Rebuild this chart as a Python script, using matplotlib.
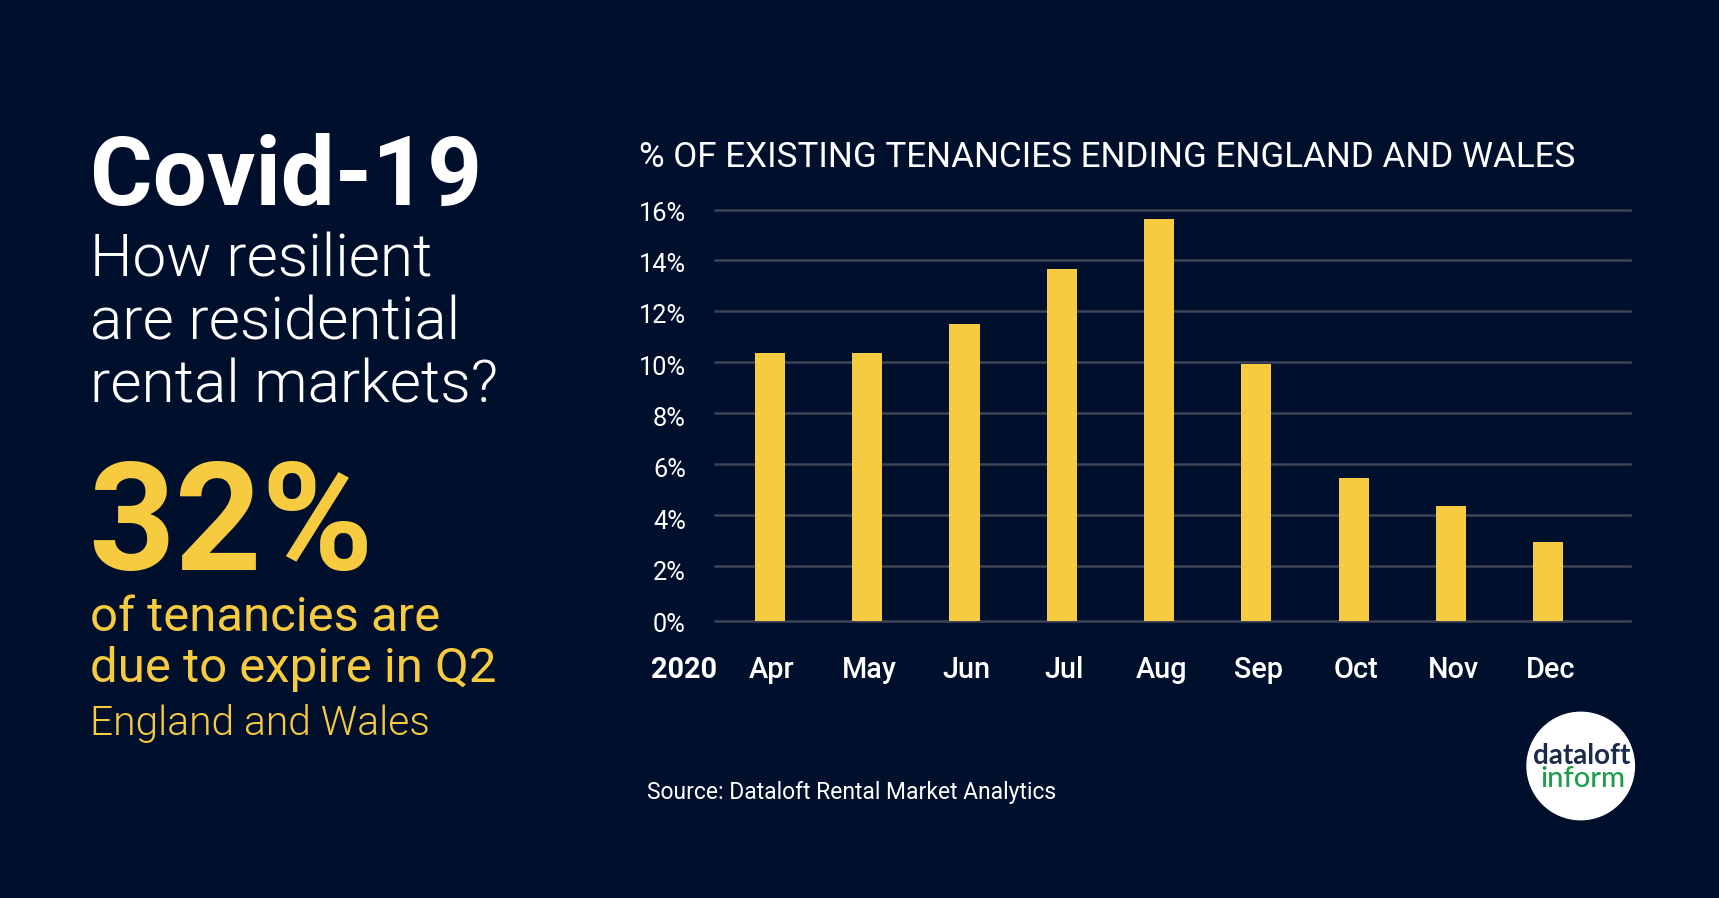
import matplotlib
matplotlib.use("Agg")
import matplotlib.pyplot as plt
from matplotlib.patches import Circle
from matplotlib.transforms import ScaledTranslation

W, H = 1719, 898
BG = "#000f2b"
YELLOW = "#f6cb3f"
GRID = "#3c4356"

months = ["Apr", "May", "Jun", "Jul", "Aug", "Sep", "Oct", "Nov", "Dec"]
tenancies_pct = [10.35, 10.35, 11.5, 13.67, 15.63, 9.93, 5.45, 4.33, 2.95]
# the baseline of the original sits a little below where 0 should be
baseline = -0.16
tick_pos = [baseline, 2, 4, 6, 8, 10, 12, 14, 16]
tick_labels = ["0%", "2%", "4%", "6%", "8%", "10%", "12%", "14%", "16%"]
# labels are evenly spaced in the original but the gridlines are not, px below each line
label_drop = [11.3, 14.4, 14.0, 13.5, 13.1, 12.6, 12.2, 11.7, 11.2]

plt.rcParams["font.family"] = ["Roboto", "DejaVu Sans"]

fig = plt.figure(figsize=(W / 100, H / 100), dpi=100, facecolor=BG)


def px_text(x, y, s, **kw):
    return fig.text(x / W, 1 - y / H, s, va="baseline", **kw)


# chart
left, right, top, bottom = 715, 1630, 209.5, 620.7
ax = fig.add_axes([left / W, 1 - bottom / H, (right - left) / W, (bottom - top) / H])
ax.set_facecolor(BG)
heights = [v - baseline for v in tenancies_pct]
ax.bar(range(len(months)), heights, bottom=baseline, width=0.31, color=YELLOW, zorder=3)
ax.set_xlim(-0.565, 8.84)
ax.set_ylim(baseline, 16)
ax.set_yticks(tick_pos)
ax.set_yticklabels(tick_labels)
ax.set_xticks(range(len(months)))
ax.set_xticklabels(months)
ax.grid(axis="y", color=GRID, linewidth=1.8, zorder=0, clip_on=False)
ax.set_axisbelow(True)
for s in ax.spines.values():
    s.set_visible(False)
ax.tick_params(axis="y", length=0, pad=21, labelsize=18.3, labelcolor="white")
ax.tick_params(axis="x", length=0, pad=0, labelsize=20.8, labelcolor="white")

for lab, drop in zip(ax.get_yticklabels(), label_drop):
    lab.set_va("baseline")
    lab.set_fontweight(400)
    lab.set_transform(lab.get_transform() + ScaledTranslation(0, -drop / 100, fig.dpi_scale_trans))
down_x = ScaledTranslation(2 / 100, -57.3 / 100, fig.dpi_scale_trans)
for lab in ax.get_xticklabels():
    lab.set_va("baseline")
    lab.set_fontweight(500)
    lab.set_transform(lab.get_transform() + down_x)

px_text(683.5, 678, "2020", color="white", fontsize=20.8, fontweight=700, ha="center")
px_text(639, 166.7, "% OF EXISTING TENANCIES ENDING ENGLAND AND WALES", color="white", fontsize=25.2)
px_text(647.3, 799, "Source: Dataloft Rental Market Analytics", color="white", fontsize=16.5)

# left hand panel
px_text(90, 205, "Covid-19", color="white", fontsize=69, fontweight=700)
px_text(90, 276.7, "How resilient", color="white", fontsize=43.3, fontweight=300)
px_text(90, 339.3, "are residential", color="white", fontsize=43.3, fontweight=300)
px_text(90, 402.7, "rental markets?", color="white", fontsize=43.3, fontweight=300)
px_text(88, 570, "32%", color=YELLOW, fontsize=109, fontweight=700)
px_text(90, 631, "of tenancies are", color=YELLOW, fontsize=35.3, fontweight=400)
px_text(90, 681.7, "due to expire in Q2", color=YELLOW, fontsize=35.4, fontweight=400)
px_text(90, 735, "England and Wales", color=YELLOW, fontsize=29.3, fontweight=300)

# logo
logo = fig.add_axes([0, 0, 1, 1], facecolor="none", zorder=5)
logo.set_xlim(0, W)
logo.set_ylim(H, 0)
logo.axis("off")
logo.add_patch(Circle((1580.7, 766), 53.7, color="white"))
logo.text(1582, 764, "dataloft", color="#1c2b4a", fontsize=20, fontweight=700, family="Lato", ha="center", va="baseline")
logo.text(1583, 786.7, "inform", color="#1e9e4a", fontsize=21, fontweight=500, family="Lato", ha="center", va="baseline")

fig.savefig("out.png", dpi=100, facecolor=BG)
